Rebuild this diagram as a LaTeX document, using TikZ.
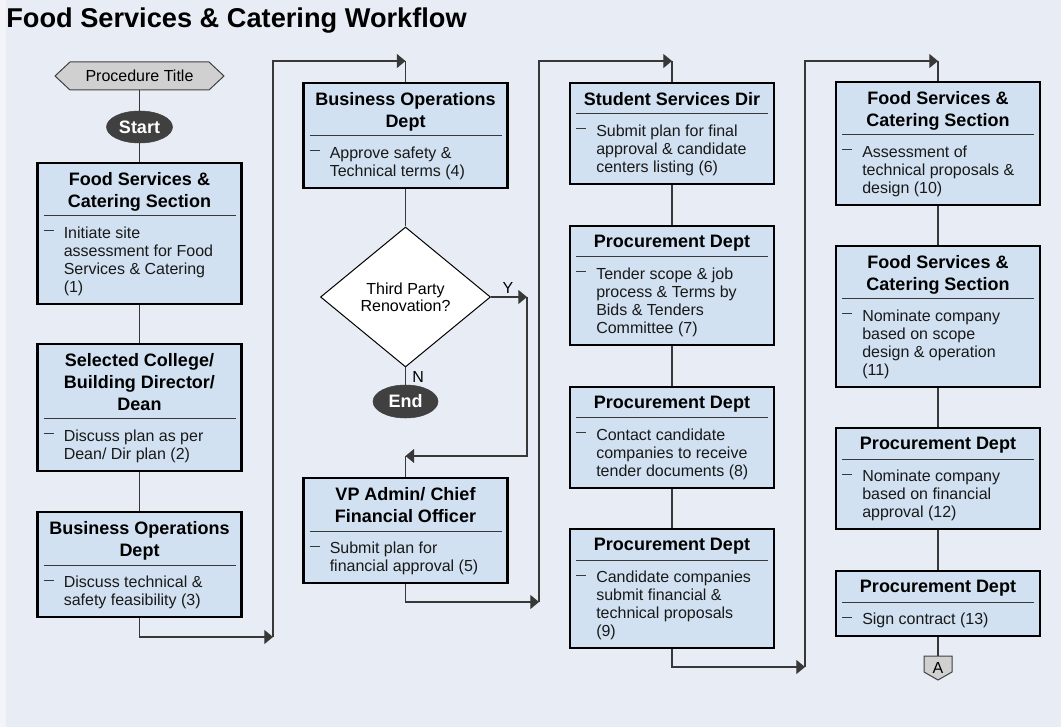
\documentclass[tikz,border=0pt]{standalone}
\usepackage{fontspec}
\setmainfont{Liberation Sans}
\usetikzlibrary{shapes.geometric,arrows.meta}
\definecolor{bgc}{HTML}{E8EDF5}
\definecolor{stripc}{HTML}{F2F4F8}
\definecolor{boxc}{HTML}{D1E1F1}
\definecolor{grayc}{HTML}{D0D0D0}
\definecolor{darkc}{HTML}{404040}
\definecolor{linec}{HTML}{383838}
\tikzset{
  procbox/.style={draw=black, line width=1.6pt, fill=boxc, minimum width=153pt, inner sep=0pt},
  hdr/.style={font=\bfseries\fontsize{13.5}{16.5}\selectfont, align=center, inner sep=0pt},
  bodyt/.style={font=\fontsize{12}{13.5}\selectfont, align=left, inner sep=0pt, text=black!90},
  sepl/.style={draw=linec, line width=0.75pt},
  conn/.style={draw=linec, line width=0.8pt},
  arr/.style={conn, -{Triangle[length=6.5pt,width=10.5pt]}},
  graysh/.style={fill=grayc, draw=darkc, line width=0.75pt},
  term/.style={ellipse, fill=darkc, draw=darkc, text=white, inner sep=0pt, font=\bfseries\fontsize{13.5}{16}\selectfont},
  lbl/.style={font=\fontsize{12}{14}\selectfont, inner sep=0pt},
}
% #1 name, #2 cx, #3 top, #4 header lines, #5 body lines, #6 header, #7 body
\newcommand{\procbox}[7]{%
  \pgfmathsetmacro{\pbH}{(65+22*(#4-1)+18*(#5-1))*0.75}%
  \pgfmathsetmacro{\pbS}{#3+32+22*(#4-1)}%
  \node[procbox, minimum height=\pbH pt, anchor=north] (#1) at (#2,#3) {};
  \node[hdr, anchor=north] (#1-h) at (#2,#3+10) {#6};
  \draw[sepl] (#2-96,\pbS) -- (#2+96,\pbS);
  \draw[sepl] (#2-96,\pbS+15) -- (#2-86,\pbS+15);
  \node[bodyt, anchor=north west] (#1-b) at (#2-76,\pbS+10.5) {#7};
}
\begin{document}
\begin{tikzpicture}[x=0.75pt,y=-0.75pt]
\path[use as bounding box, fill=stripc] (0,0) rectangle (1061,727);
\fill[bgc] (6,0) rectangle (1061,727);

\node[anchor=base west, inner sep=0pt, font=\bfseries\fontsize{20.4}{23}\selectfont] (title) at (6,28) {Food Services \& Catering Workflow};

% procedure title hexagon
\draw[graysh] (55,76) -- (70,62) -- (209,62) -- (224,76) -- (209,90) -- (70,90) -- cycle;
\node[lbl, minimum width=126.75pt, minimum height=21pt] (ptitle) at (139.5,76) {Procedure Title};
\node[term, minimum width=49.5pt, minimum height=24pt] (start) at (139.5,127) {Start};

% column 1
\procbox{b1}{139.5}{162}{2}{4}{Food Services \&\\Catering Section}{Initiate site\\assessment for Food\\Services \& Catering\\(1)}
\procbox{b2}{139.5}{343}{3}{2}{Selected College/\\Building Director/\\Dean}{Discuss plan as per\\Dean/ Dir plan (2)}
\procbox{b3}{139.5}{511}{2}{2}{Business Operations\\Dept}{Discuss technical \&\\safety feasibility (3)}

% column 2
\procbox{b4}{405.5}{82}{2}{2}{Business Operations\\Dept}{Approve safety \&\\Technical terms (4)}
\node[diamond, draw=black, line width=0.75pt, fill=white, minimum width=127.5pt, minimum height=105pt, aspect=1.2, inner sep=0pt, align=center, font=\fontsize{12}{13}\selectfont] (dia) at (405.5,297) {Third Party\\Renovation?};
\node[term, minimum width=48.75pt, minimum height=24.75pt] (end) at (405.5,401.5) {End};
\procbox{b5}{405.5}{477}{2}{2}{VP Admin/ Chief\\Financial Officer}{Submit plan for\\financial approval (5)}

% column 3
\procbox{b6}{672}{82}{1}{3}{Student Services Dir}{Submit plan for final\\approval \& candidate\\centers listing (6)}
\procbox{b7}{672}{225}{1}{4}{Procurement Dept}{Tender scope \& job\\process \& Terms by\\Bids \& Tenders\\Committee (7)}
\procbox{b8}{672}{386}{1}{3}{Procurement Dept}{Contact candidate\\companies to receive\\tender documents (8)}
\procbox{b9}{672}{528}{1}{4}{Procurement Dept}{Candidate companies\\submit financial \&\\technical proposals\\(9)}

% column 4
\procbox{b10}{938}{81}{2}{3}{Food Services \&\\Catering Section}{Assessment of\\technical proposals \&\\design (10)}
\procbox{b11}{938}{245}{2}{4}{Food Services \&\\Catering Section}{Nominate company\\based on scope\\design \& operation\\(11)}
\procbox{b12}{938}{427}{1}{3}{Procurement Dept}{Nominate company\\based on financial\\approval (12)}
\procbox{b13}{938}{570}{1}{1}{Procurement Dept}{Sign contract (13)}

% off-page connector A
\draw[graysh] (924,656) -- (952,656) -- (952,672) -- (938,680) -- (924,672) -- cycle;
\node[lbl, minimum width=21pt, minimum height=18pt] (A) at (938,668) {A};

% corner coordinates
\coordinate (c1) at (273,637);
\coordinate (c2) at (405.5,61);
\coordinate (y1) at (527,297);
\coordinate (y2) at (405.5,456);
\coordinate (c3) at (539,602);
\coordinate (c4) at (672,61);
\coordinate (c5) at (805,667);
\coordinate (c6) at (938,61);

% connectors
\draw[conn] (ptitle.south) -- (start.north);
\draw[conn] (start.south) -- (b1.north);
\draw[conn] (b1.south) -- (b2.north);
\draw[conn] (b2.south) -- (b3.north);
\draw[arr] (b3.south) |- (c1);
\draw[arr] (c1) |- (c2);
\draw[conn] (c2) -- (b4.north);
\draw[conn] (b4.south) -- (dia.north);
\draw[arr] (dia.east) -- (y1);
\node[lbl] (ylab) at (508,288) {Y};
\draw[arr] (y1) |- (y2);
\draw[conn] (y2) -- (b5.north);
\draw[conn] (dia.south) -- (end.north);
\node[lbl, anchor=west] (nlab) at (412,377) {N};
\draw[arr] (b5.south) |- (c3);
\draw[arr] (c3) |- (c4);
\draw[conn] (c4) -- (b6.north);
\draw[conn] (b6.south) -- (b7.north);
\draw[conn] (b7.south) -- (b8.north);
\draw[conn] (b8.south) -- (b9.north);
\draw[arr] (b9.south) |- (c5);
\draw[arr] (c5) |- (c6);
\draw[conn] (c6) -- (b10.north);
\draw[conn] (b10.south) -- (b11.north);
\draw[conn] (b11.south) -- (b12.north);
\draw[conn] (b12.south) -- (b13.north);
\draw[conn] (b13.south) -- (A.north);
\end{tikzpicture}
\end{document}
